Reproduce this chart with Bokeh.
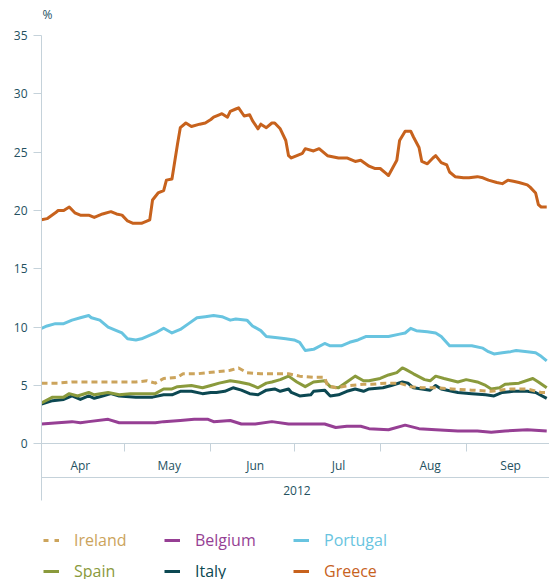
from bokeh.plotting import figure
from bokeh.layouts import column
from bokeh.models import FixedTicker, LinearAxis, Range1d, Legend, LegendItem, Grid, Label
from bokeh.embed import file_html
from bokeh.resources import INLINE

# ---- data: day offsets from 1 April 2012, values in % ----
greece_day = [0, 2, 5, 6, 8, 10, 12, 14, 17, 19, 22, 25, 27, 29, 31, 33, 36, 39, 40, 42, 44, 45, 47, 49, 50, 52,
              54, 57, 59, 61, 62, 64, 65, 67, 68, 70, 71, 73, 75, 76, 78, 79, 81, 83, 84, 86, 88, 89, 90, 94, 95,
              98, 100, 103, 107, 110, 113, 115, 118, 120, 122, 124, 125, 128, 129, 131, 133, 134, 136, 137, 139,
              141, 142, 144, 146, 147, 149, 152, 154, 157, 159, 161, 164, 166, 168, 170, 172, 175, 176, 178, 179,
              180, 182]
greece_val = [19.2, 19.3, 19.8, 20.0, 20.0, 20.3, 19.8, 19.6, 19.6, 19.4, 19.7, 19.9, 19.7, 19.6, 19.1, 18.9, 18.9,
              19.2, 20.9, 21.5, 21.7, 22.6, 22.7, 25.7, 27.1, 27.5, 27.2, 27.4, 27.5, 27.8, 28.0, 28.2, 28.3, 28.0,
              28.5, 28.7, 28.8, 28.1, 28.2, 27.7, 27.0, 27.4, 27.1, 27.5, 27.5, 27.0, 26.0, 24.7, 24.5, 24.9, 25.3,
              25.1, 25.3, 24.7, 24.5, 24.5, 24.2, 24.3, 23.8, 23.6, 23.6, 23.2, 23.0, 24.3, 26.0, 26.8, 26.8, 26.3,
              25.4, 24.2, 24.0, 24.5, 24.7, 24.1, 23.9, 23.3, 22.9, 22.8, 22.8, 22.9, 22.8, 22.6, 22.4, 22.3, 22.6,
              22.5, 22.4, 22.2, 22.0, 21.5, 20.5, 20.3, 20.3]

portugal_day = [0, 2, 5, 8, 11, 14, 17, 18, 21, 24, 27, 29, 31, 34, 36, 41, 44, 47, 50, 53, 56, 59, 62, 65, 68,
                70, 74, 76, 79, 81, 85, 88, 91, 93, 95, 98, 102, 104, 108, 111, 114, 117, 121, 125, 129, 131, 133,
                135, 139, 142, 144, 147, 151, 155, 159, 161, 163, 166, 169, 171, 175, 178, 180, 182]
portugal_val = [9.9, 10.1, 10.3, 10.3, 10.6, 10.8, 11.0, 10.8, 10.6, 10.0, 9.7, 9.5, 9.0, 8.9, 9.0, 9.5, 9.9, 9.5,
                9.8, 10.3, 10.8, 10.9, 11.0, 10.9, 10.6, 10.7, 10.6, 10.1, 9.7, 9.2, 9.1, 9.0, 8.9, 8.7, 8.0, 8.1,
                8.6, 8.4, 8.4, 8.7, 8.9, 9.2, 9.2, 9.2, 9.4, 9.5, 9.9, 9.7, 9.6, 9.5, 9.2, 8.4, 8.4, 8.4, 8.2, 7.9,
                7.7, 7.8, 7.9, 8.0, 7.9, 7.8, 7.5, 7.1]

ireland_day = [0, 6, 11, 17, 23, 29, 34, 38, 41, 44, 49, 51, 56, 60, 64, 68, 71, 74, 79, 85, 89, 93, 98, 102, 103,
               106, 111, 116, 119, 124, 129, 133, 137, 142, 148, 155, 162, 169, 175, 180, 182]
ireland_val = [5.2, 5.2, 5.3, 5.3, 5.3, 5.3, 5.3, 5.4, 5.2, 5.6, 5.7, 6.0, 6.0, 6.1, 6.2, 6.3, 6.5, 6.1, 6.0, 6.0,
               6.0, 5.8, 5.7, 5.7, 5.0, 4.8, 5.0, 5.1, 5.1, 5.2, 5.2, 4.9, 4.8, 4.8, 4.7, 4.6, 4.5, 4.7, 4.7, 4.4, 4.4]

spain_day = [0, 4, 8, 10, 13, 17, 19, 24, 28, 32, 35, 41, 44, 47, 49, 54, 58, 61, 64, 68, 71, 75, 78, 81, 83, 86,
             89, 92, 95, 98, 102, 104, 107, 110, 113, 116, 118, 122, 125, 128, 130, 131, 134, 138, 140, 142, 145,
             150, 153, 157, 160, 162, 165, 167, 172, 177, 179, 182]
spain_val = [3.5, 4.0, 4.0, 4.3, 4.1, 4.4, 4.2, 4.4, 4.2, 4.3, 4.3, 4.3, 4.7, 4.7, 4.9, 5.0, 4.8, 5.0, 5.2, 5.4, 5.3,
             5.1, 4.8, 5.2, 5.3, 5.5, 5.8, 5.3, 4.9, 5.3, 5.4, 4.9, 4.8, 5.3, 5.8, 5.4, 5.4, 5.6, 5.9, 6.1, 6.5,
             6.4, 6.0, 5.5, 5.4, 5.8, 5.6, 5.3, 5.5, 5.3, 5.0, 4.7, 4.8, 5.1, 5.2, 5.6, 5.3, 4.8]

italy_day = [0, 4, 8, 11, 14, 17, 19, 22, 25, 28, 34, 40, 44, 47, 50, 54, 58, 61, 63, 66, 69, 72, 75, 78, 81, 84,
             86, 89, 90, 93, 97, 98, 102, 104, 107, 110, 113, 116, 118, 123, 126, 130, 132, 134, 137, 140, 142,
             144, 150, 155, 160, 163, 166, 170, 175, 178, 182]
italy_val = [3.4, 3.7, 3.8, 4.1, 3.8, 4.1, 3.9, 4.1, 4.3, 4.1, 4.0, 4.0, 4.2, 4.2, 4.5, 4.5, 4.3, 4.4, 4.4, 4.5, 4.8,
             4.6, 4.3, 4.2, 4.6, 4.7, 4.5, 4.7, 4.4, 4.1, 4.2, 4.5, 4.6, 4.1, 4.2, 4.5, 4.7, 4.5, 4.7, 4.8, 5.0,
             5.3, 5.2, 4.8, 4.7, 4.6, 5.0, 4.7, 4.4, 4.3, 4.2, 4.1, 4.4, 4.5, 4.5, 4.4, 3.9]

belgium_day = [0, 6, 11, 14, 17, 24, 28, 35, 41, 44, 50, 55, 60, 62, 68, 72, 77, 83, 89, 97, 102, 106, 110, 115,
               118, 125, 131, 136, 142, 150, 157, 162, 167, 175, 182]
belgium_val = [1.7, 1.8, 1.9, 1.8, 1.9, 2.1, 1.8, 1.8, 1.8, 1.9, 2.0, 2.1, 2.1, 1.9, 2.0, 1.7, 1.7, 1.9, 1.7, 1.7,
               1.7, 1.4, 1.5, 1.5, 1.3, 1.2, 1.6, 1.3, 1.2, 1.1, 1.1, 1.0, 1.1, 1.2, 1.1]

y_ticks = [0, 5, 10, 15, 20, 25, 30, 35]
month_start_days = [30, 61, 91, 122, 153]
month_label_days = [14, 46, 77, 107, 140, 169]
month_labels = ["Apr", "May", "Jun", "Jul", "Aug", "Sep"]
year_label_day = [92]
year_labels = ["2012"]
unit_label = "%"

FONT = "Open Sans"
TEXT = "#24515f"
AXIS = "#c5d2da"


def blank_figure(height, yr):
    f = figure(width=549, height=height, x_range=Range1d(0, 1), y_range=yr,
               output_backend="svg", toolbar_location=None,
               x_axis_location=None, y_axis_location=None,
               min_border_left=0, min_border_right=0, min_border_top=0, min_border_bottom=0)
    f.outline_line_color = None
    f.background_fill_color = "white"
    f.border_fill_color = "white"
    for g in f.grid:
        g.visible = False
    return f


# header with the unit
hf = blank_figure(25, Range1d(0, 1))
hf.add_layout(Label(x=1, y=11, x_units="screen", y_units="screen", text=unit_label,
                    text_font=FONT, text_font_size="12px", text_color=TEXT,
                    text_align="left", text_baseline="middle"))

# main chart
p = figure(width=549, height=480, x_range=Range1d(0, 183), y_range=Range1d(-4.86, 35),
           output_backend="svg", toolbar_location=None,
           x_axis_location=None, y_axis_location=None,
           min_border_left=41, min_border_right=0, min_border_top=10, min_border_bottom=5)
p.outline_line_color = None
p.background_fill_color = "white"
p.border_fill_color = "white"
for g in p.grid:
    g.visible = False

yax = LinearAxis(ticker=FixedTicker(ticks=y_ticks, minor_ticks=[]))
yax.axis_line_color = AXIS
yax.major_tick_line_color = AXIS
yax.major_tick_out = 8
yax.major_tick_in = 0
yax.minor_tick_line_color = None
yax.major_label_standoff = 6
yax.major_label_text_font = FONT
yax.major_label_text_font_size = "12px"
yax.major_label_text_color = TEXT
p.add_layout(yax, "left")

p.add_layout(Grid(dimension=1, ticker=FixedTicker(ticks=[35], minor_ticks=[]), grid_line_color=AXIS))

xax = LinearAxis(fixed_location=0,
                 ticker=FixedTicker(ticks=month_label_days, minor_ticks=month_start_days),
                 major_label_overrides=dict(zip(month_label_days, month_labels)))
xax.axis_line_color = AXIS
xax.major_tick_out = 0
xax.major_tick_in = 0
xax.major_tick_line_color = None
xax.minor_tick_out = 8
xax.minor_tick_in = 0
xax.minor_tick_line_color = AXIS
xax.major_label_standoff = 5
xax.major_label_text_font = FONT
xax.major_label_text_font_size = "12px"
xax.major_label_text_color = TEXT
p.add_layout(xax, "below")

yrax = LinearAxis(fixed_location=-2.86,
                  ticker=FixedTicker(ticks=year_label_day, minor_ticks=[]),
                  major_label_overrides=dict(zip(year_label_day, year_labels)))
yrax.axis_line_color = AXIS
yrax.major_tick_out = 0
yrax.major_tick_in = 0
yrax.major_tick_line_color = None
yrax.minor_tick_line_color = None
yrax.major_label_standoff = 9
yrax.major_label_text_font = FONT
yrax.major_label_text_font_size = "12px"
yrax.major_label_text_color = TEXT
p.add_layout(yrax, "below")

series = [
    ("Ireland", ireland_day, ireland_val, "#cca45c", "6 4"),
    ("Belgium", belgium_day, belgium_val, "#963f94", "solid"),
    ("Portugal", portugal_day, portugal_val, "#68c4e0", "solid"),
    ("Spain", spain_day, spain_val, "#8a9a3c", "solid"),
    ("Italy", italy_day, italy_val, "#0c4852", "solid"),
    ("Greece", greece_day, greece_val, "#c7621d", "solid"),
]
draw_order = ["Belgium", "Portugal", "Italy", "Spain", "Ireland", "Greece"]
for name in draw_order:
    s = [t for t in series if t[0] == name][0]
    p.line(s[1], s[2], line_color=s[3], line_width=3, line_dash=s[4], line_join="round")

# legend panel (its ranges keep the series out of view)
lf = blank_figure(74, Range1d(-20, -10))
legend_pos = [(2, 28), (123, 28), (252, 28), (2, -3), (123, -3), (252, -3)]
for (name, d, v, color, dash), loc in zip(series, legend_pos):
    r = lf.line(d, v, line_color=color, line_width=3, line_dash="5 6" if dash != "solid" else dash)
    lg = Legend(items=[LegendItem(label=name, renderers=[r])],
                location=loc, orientation="horizontal",
                padding=0, margin=0, spacing=0, glyph_width=16, glyph_height=20,
                label_height=20, label_standoff=15,
                label_text_font=FONT, label_text_font_size="16px", label_text_color=color,
                border_line_color=None, background_fill_alpha=0)
    lf.add_layout(lg, "center")

layout = column(hf, p, lf, spacing=0)
open("out.html", "w").write(file_html(layout, INLINE))
